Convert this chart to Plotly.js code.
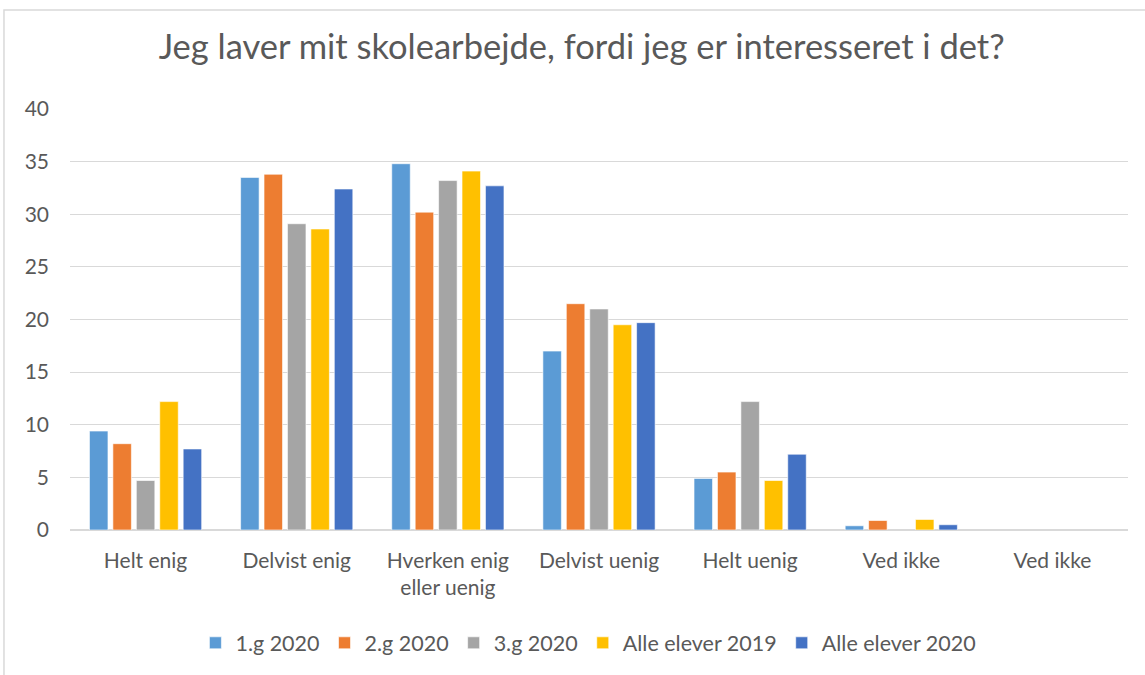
<!DOCTYPE html>
<html>
<head>
<meta charset="utf-8">
<script src="https://cdn.plot.ly/plotly-3.0.1.min.js"></script>
<style>html,body{margin:0;padding:0;background:#fff;}#chart{width:1145px;height:675px;}</style>
</head>
<body>
<div id="chart"></div>
<script>
const categories = ["Helt enig", "Delvist enig", "Hverken enig<br>eller uenig", "Delvist uenig", "Helt uenig", "Ved ikke", "Ved ikke"];
const seriesNames = ["1.g 2020", "2.g 2020", "3.g 2020", "Alle elever 2019", "Alle elever 2020"];
const g1_2020 = [9.4, 33.5, 34.8, 17.0, 4.9, 0.4, null];
const g2_2020 = [8.2, 33.8, 30.2, 21.5, 5.5, 0.9, null];
const g3_2020 = [4.7, 29.1, 33.2, 21.0, 12.2, null, null];
const alle2019 = [12.2, 28.6, 34.1, 19.5, 4.7, 1.0, null];
const alle2020 = [7.7, 32.4, 32.7, 19.7, 7.2, 0.5, null];
const colors = ["#5B9BD5", "#ED7D31", "#A5A5A5", "#FFC000", "#4472C4"];
const yTicks = [0, 5, 10, 15, 20, 25, 30, 35, 40];

const xIdx = categories.map((c, i) => i);
const values = [g1_2020, g2_2020, g3_2020, alle2019, alle2020];
const traces = values.map((v, k) => ({
  type: "bar",
  name: seriesNames[k],
  x: xIdx,
  y: v,
  marker: {color: colors[k], line: {color: "rgba(255,255,255,0.6)", width: 1}},
  hoverinfo: "name+y"
}));

const fontFam = "Lato, Carlito, 'Liberation Sans', sans-serif";
const layout = {
  width: 1145, height: 675,
  margin: {l: 70, r: 17, t: 109, b: 145},
  paper_bgcolor: "#fff", plot_bgcolor: "#fff",
  font: {family: fontFam, color: "#595959", size: 21},
  title: {text: "Jeg laver mit skolearbejde, fordi jeg er interesseret i det?", font: {size: 34.5, color: "#595959", family: fontFam}, x: 0.508, xanchor: "center", y: 0.93, yanchor: "middle"},
  barmode: "group",
  bargap: 0.225,
  bargroupgap: 0.21,
  xaxis: {
    tickmode: "array", tickvals: xIdx, ticktext: categories,
    range: [-0.5, 6.5], showgrid: false, zeroline: false, showline: false,
    ticks: "", ticklabelstandoff: 16, tickfont: {size: 21, color: "#595959"}
  },
  yaxis: {
    range: [0, 40], tickmode: "array", tickvals: yTicks,
    showgrid: true, gridcolor: "#d9d9d9", gridwidth: 1,
    zeroline: true, zerolinecolor: "#d9d9d9", zerolinewidth: 1.5,
    showline: false, ticks: "", ticklabelstandoff: 20,
    tickfont: {size: 21, color: "#595959"}
  },
  legend: {orientation: "h", x: 0.49, xanchor: "center", y: -0.268, yanchor: "middle", font: {size: 21.5, color: "#595959"}, itemwidth: 30, traceorder: "normal"},
  showlegend: true,
  shapes: [{type: "rect", xref: "paper", yref: "paper", x0: -0.0624, x1: 1.2, y0: -0.5, y1: 1.235, line: {color: "#d9d9d9", width: 1.5}, layer: "below"}]
};

Plotly.newPlot("chart", traces, layout, {displayModeBar: false, staticPlot: true});
</script>
</body>
</html>
